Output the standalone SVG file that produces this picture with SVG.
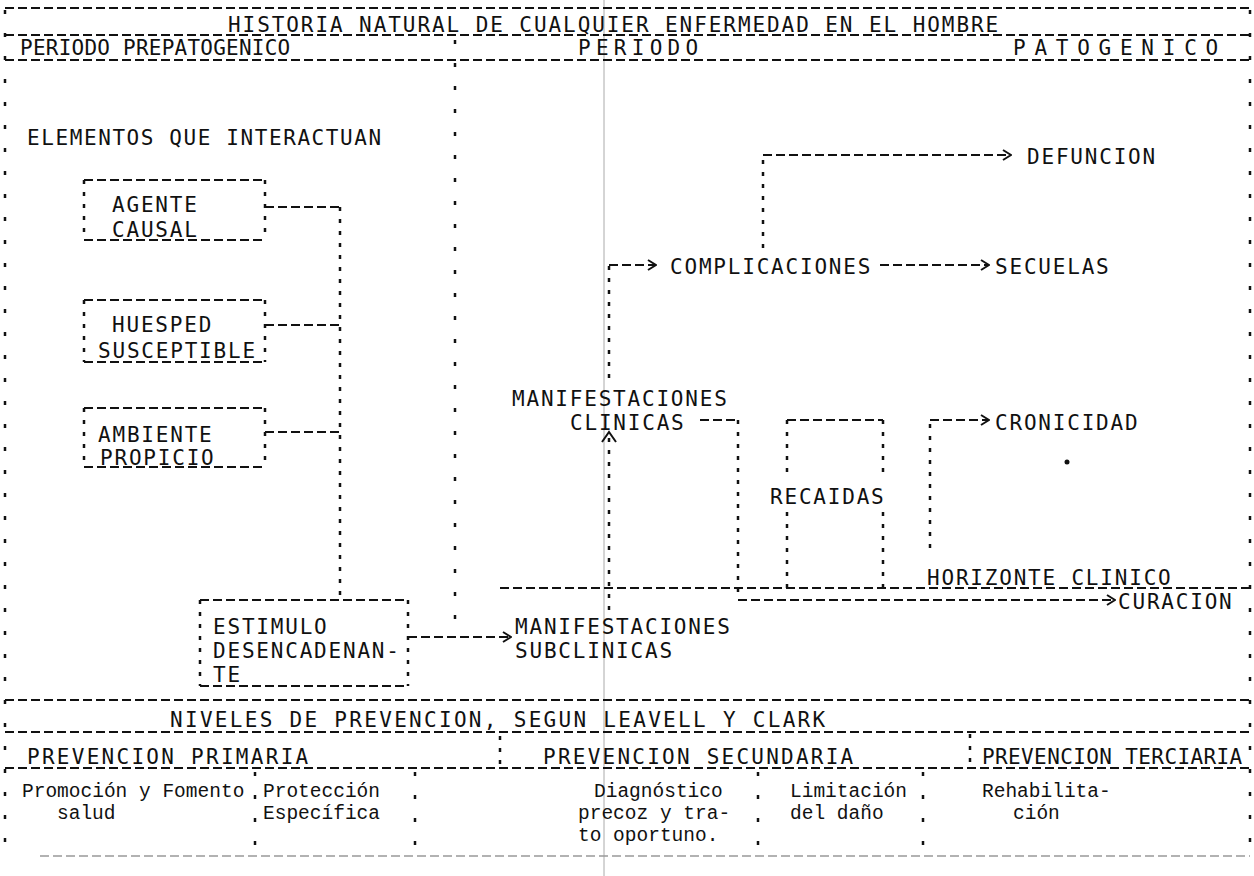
<svg xmlns="http://www.w3.org/2000/svg" width="1254" height="876" viewBox="0 0 1254 876">
<defs>
<style>
.t{font-family:"DejaVu Sans Mono","Liberation Mono",monospace;font-size:21px;letter-spacing:1.8px;fill:#111}
.s{font-family:"Liberation Mono","Courier New",monospace;font-size:19.5px;fill:#111}
.h{stroke:#111;stroke-width:2;stroke-dasharray:9 4;fill:none}
.v{stroke:#111;stroke-width:2.5;stroke-dasharray:4 8;fill:none}
.vf{stroke:#111;stroke-width:2.5;stroke-dasharray:4 19;fill:none}
.c{stroke:#111;stroke-width:2;fill:none}
.scan{stroke:#aaa;stroke-width:1;fill:none}
.faint{stroke:#999;stroke-width:1.5;stroke-dasharray:9 4;fill:none}
</style>
<marker id="arr" markerWidth="10" markerHeight="12" refX="9" refY="6" orient="auto" markerUnits="userSpaceOnUse">
<path d="M1,1 L9,6 L1,11" fill="none" stroke="#111" stroke-width="2"/>
</marker>
</defs>
<rect width="1254" height="876" fill="#fff"/>
<line class="scan" x1="604" y1="0" x2="604" y2="876"/>

<g id="frame">
<line class="h" x1="5" y1="8" x2="1250" y2="8"/>
<line class="h" x1="5" y1="35" x2="1250" y2="35"/>
<line class="h" x1="5" y1="60" x2="1250" y2="60"/>
<line class="vf" x1="5" y1="10" x2="5" y2="856"/>
<line class="vf" x1="1250" y1="10" x2="1250" y2="856"/>
<line class="vf" x1="455" y1="40" x2="455" y2="628"/>
<line class="h" x1="5" y1="700" x2="1250" y2="700"/>
<line class="h" x1="5" y1="732" x2="1250" y2="732"/>
<line class="h" x1="5" y1="768" x2="1250" y2="768"/>
<line class="faint" x1="40" y1="856" x2="1250" y2="856"/>
<line class="v" x1="500" y1="736" x2="500" y2="768"/>
<line class="v" x1="970" y1="734" x2="970" y2="768"/>
<line class="vf" x1="255" y1="772" x2="255" y2="856"/>
<line class="vf" x1="415" y1="772" x2="415" y2="856"/>
<line class="vf" x1="758" y1="772" x2="758" y2="856"/>
<line class="vf" x1="923" y1="772" x2="923" y2="856"/>
</g>

<g id="headers">
<text class="t" x="228" y="32" textLength="772">HISTORIA NATURAL DE CUALQUIER ENFERMEDAD EN EL HOMBRE</text>
<text class="t" x="20" y="55" textLength="272">PERIODO PREPATOGENICO</text>
<text class="t" x="578" y="55" textLength="122">P E R I O D O</text>
<text class="t" x="1013" y="55" textLength="207">P A T O G E N I C O</text>
<text class="t" x="27" y="145" textLength="356">ELEMENTOS QUE INTERACTUAN</text>
</g>

<g id="agente">
<path class="h" d="M84,180 H265 M84,240 H265"/>
<path class="v" d="M84,180 V240 M265,180 V240"/>
<text class="t" x="112" y="212">AGENTE</text>
<text class="t" x="112" y="237">CAUSAL</text>
</g>
<g id="huesped">
<path class="h" d="M84,300 H265 M84,362 H265"/>
<path class="v" d="M84,300 V362 M265,300 V362"/>
<text class="t" x="112" y="332">HUESPED</text>
<text class="t" x="98" y="358">SUSCEPTIBLE</text>
</g>
<g id="ambiente">
<path class="h" d="M84,408 H265 M84,467 H265"/>
<path class="v" d="M84,408 V467 M265,408 V467"/>
<text class="t" x="98" y="442">AMBIENTE</text>
<text class="t" x="100" y="465">PROPICIO</text>
</g>
<g id="estimulo">
<path class="h" d="M200,600 H408 M200,686 H408"/>
<path class="v" d="M200,600 V686 M408,600 V686"/>
<text class="t" x="213" y="634">ESTIMULO</text>
<text class="t" x="213" y="658">DESENCADENAN-</text>
<text class="t" x="213" y="682">TE</text>
</g>
<g id="subclinicas">
<text class="t" x="515" y="634">MANIFESTACIONES</text>
<text class="t" x="515" y="658">SUBCLINICAS</text>
</g>
<g id="clinicas">
<text class="t" x="512" y="406">MANIFESTACIONES</text>
<text class="t" x="570" y="430">CLINICAS</text>
</g>
<g id="complicaciones">
<text class="t" x="670" y="274">COMPLICACIONES</text>
</g>
<g id="defuncion"><text class="t" x="1027" y="164">DEFUNCION</text></g>
<g id="secuelas"><text class="t" x="995" y="274">SECUELAS</text></g>
<g id="cronicidad"><text class="t" x="995" y="430">CRONICIDAD</text></g>
<g id="recaidas"><text class="t" x="770" y="504">RECAIDAS</text></g>
<g id="horizonte"><text class="t" x="927" y="585">HORIZONTE CLINICO</text></g>
<g id="curacion"><text class="t" x="1118" y="609">CURACION</text></g>
<circle cx="1067" cy="462" r="2.5" fill="#111"/>

<g id="connectors">
<path class="h" d="M265,207 H340 M265,325 H340 M265,432 H340"/>
<path class="v" d="M340,207 V600"/>
<path class="h" d="M408,637 H511" marker-end="url(#arr)"/>
<path class="v" d="M609,610 V436"/>
<path class="c" d="M602,442 L609,432 L616,442"/>
<path class="v" d="M609,378 V265"/>
<path class="h" d="M609,265 H656" marker-end="url(#arr)"/>
<path class="v" d="M763,248 V155"/>
<path class="h" d="M763,155 H1011" marker-end="url(#arr)"/>
<path class="h" d="M880,265 H989" marker-end="url(#arr)"/>
<path class="h" d="M700,420 H738"/>
<path class="v" d="M738,420 V600"/>
<path class="h" d="M787,420 H883"/>
<path class="v" d="M787,420 V478 M787,512 V588 M883,420 V478 M883,512 V588"/>
<path class="v" d="M930,548 V420"/>
<path class="h" d="M930,420 H989" marker-end="url(#arr)"/>
<path class="h" d="M500,588 H1250"/>
<path class="h" d="M738,600 H1115" marker-end="url(#arr)"/>
</g>

<g id="niveles">
<text class="t" x="170" y="727" textLength="657">NIVELES DE PREVENCION, SEGUN  LEAVELL Y CLARK</text>
<text class="t" x="27" y="764" textLength="283">PREVENCION  PRIMARIA</text>
<text class="t" x="543" y="764" textLength="312">PREVENCION  SECUNDARIA</text>
<text class="t" x="982" y="764" textLength="262">PREVENCION  TERCIARIA</text>
</g>
<g id="primaria">
<text class="s" x="22" y="797">Promoción y Fomento</text>
<text class="s" x="57" y="819">salud</text>
<text class="s" x="263" y="797">Protección</text>
<text class="s" x="263" y="819">Específica</text>
</g>
<g id="secundaria">
<text class="s" x="594" y="797">Diagnóstico</text>
<text class="s" x="578" y="819">precoz y tra-</text>
<text class="s" x="578" y="841">to oportuno.</text>
<text class="s" x="790" y="797">Limitación</text>
<text class="s" x="790" y="819">del daño</text>
</g>
<g id="terciaria">
<text class="s" x="982" y="797">Rehabilita-</text>
<text class="s" x="1013" y="819">ción</text>
</g>
</svg>
